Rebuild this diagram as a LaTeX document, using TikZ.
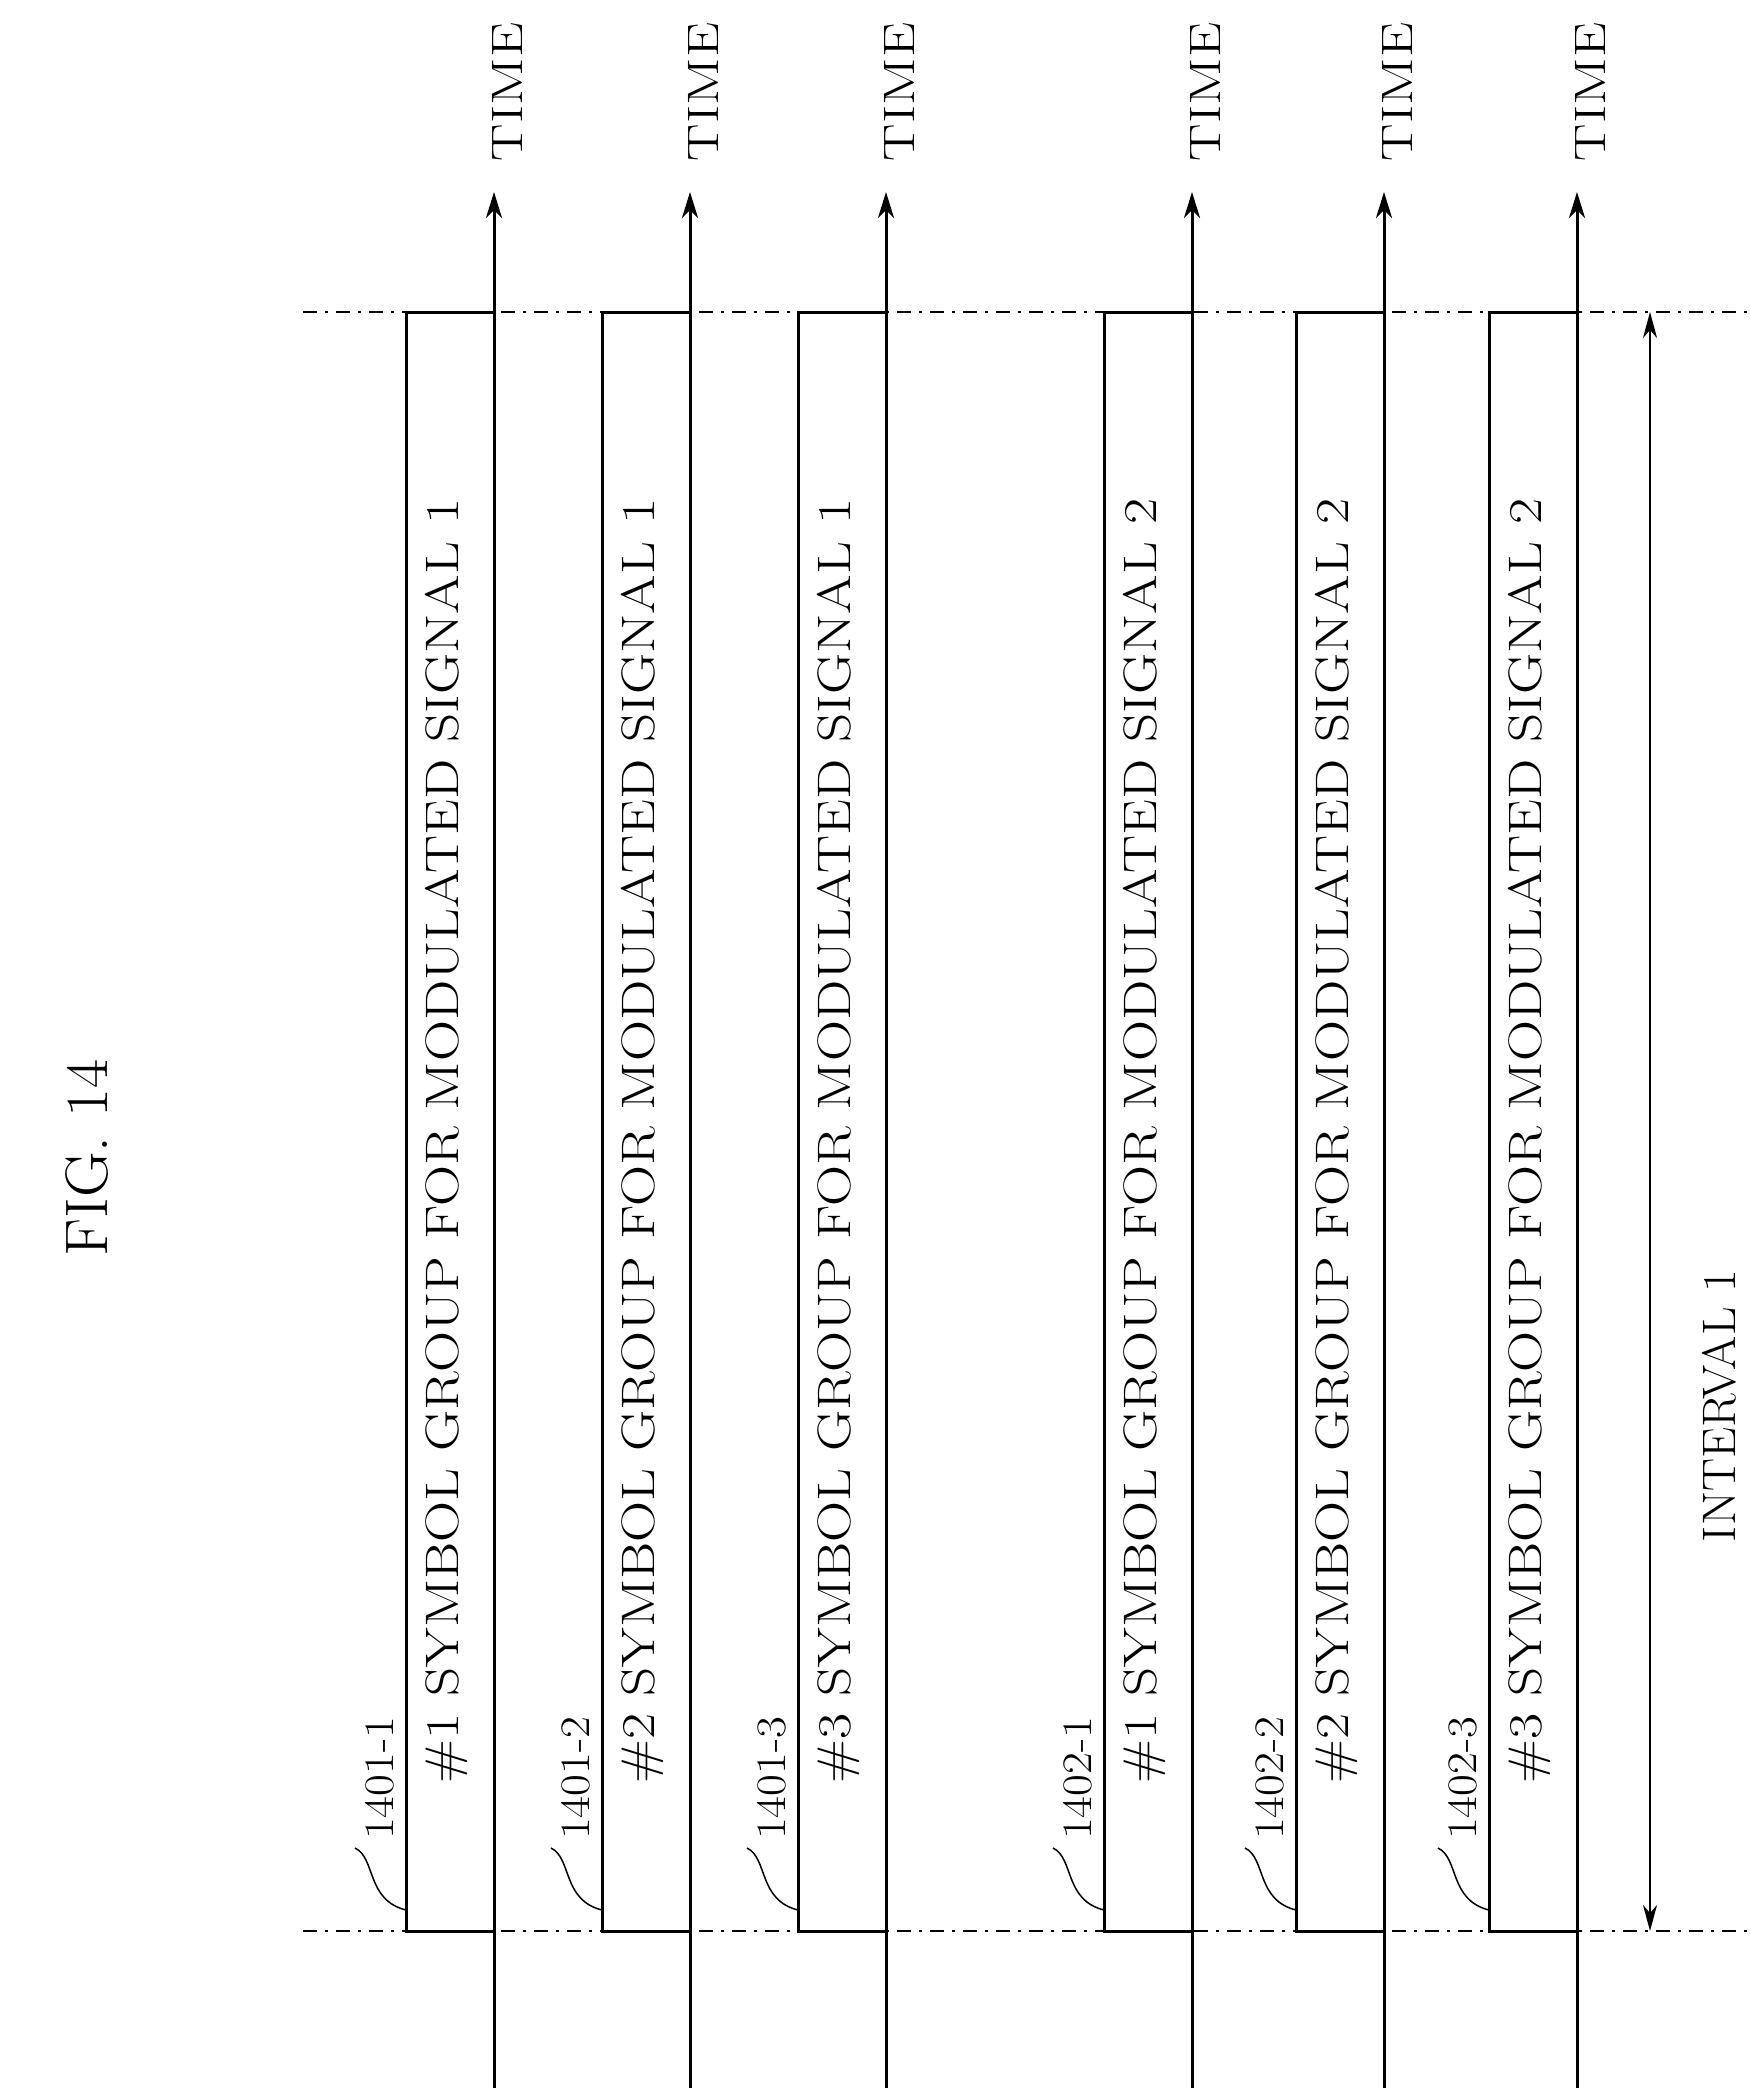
\documentclass[tikz,border=0pt]{standalone}
\usetikzlibrary{arrows.meta}
\begin{document}
\begin{tikzpicture}[x=1pt,y=-1pt,
  ln/.style={line width=3pt},
  dd/.style={line width=2pt,dash pattern=on 14pt off 8pt on 3pt off 8pt},
  ax/.style={ln,-{Stealth[length=26pt,width=16pt,inset=8pt]}},
  big/.style={font=\fontsize{47}{50}\selectfont,rotate=90},
  lab/.style={font=\fontsize{42}{46}\selectfont,rotate=90,anchor=west,inner sep=0pt}]
\useasboundingbox (0,0) rectangle (1749,2100);
\draw[dd] (303,312) -- (1749,312);
\draw[dd] (303,1931) -- (1749,1931);
\node[font=\fontsize{60}{62}\selectfont,rotate=90] (fig) at (87,1158) {\scalebox{1.05}[1]{FIG. 14}};
\foreach \ax/\bl/\lb/\n/\m [count=\i] in {494/406/1401-1/1/1,690/602/1401-2/2/1,886/798/1401-3/3/1,1192/1104/1402-1/1/2,1384/1296/1402-2/2/2,1577/1489/1402-3/3/2}{
  \draw[ln,fill=white] (\bl,1931) rectangle (\ax,312);
  \coordinate (b\i) at (\bl,1910);
  \coordinate (bot\i) at (\ax,2088);
  \coordinate (top\i) at (\ax,192);
  \draw[ax] (bot\i) -- (top\i);
  \node[big] (t\i) at ({(\bl+\ax)/2-4},1141) {\scalebox{1.21}[1]{\#\n\ SYMBOL GROUP FOR MODULATED SIGNAL \m}};
  \node[font=\fontsize{44}{48}\selectfont,rotate=90] (time\i) at (\ax+13,92) {\scalebox{1.27}[1]{TIME}};
  \node[lab] (l\i) at (\bl-26,1840) {\scalebox{1.13}[1]{\lb}};
  \coordinate (le\i) at (\bl-51,1848);
  \draw[line width=1.5pt] (le\i) .. controls (\bl-30,1858) and (\bl-40,1900) .. (b\i);
}
\coordinate (it) at (1650,312);
\coordinate (ib) at (1650,1931);
\draw[line width=2pt,{Stealth[length=26pt,width=14pt,inset=8pt]}-{Stealth[length=26pt,width=14pt,inset=8pt]}] (ib) -- (it);
\node[big] (int) at (1719,1406) {\scalebox{1.05}[1]{INTERVAL 1}};
\end{tikzpicture}
\end{document}
